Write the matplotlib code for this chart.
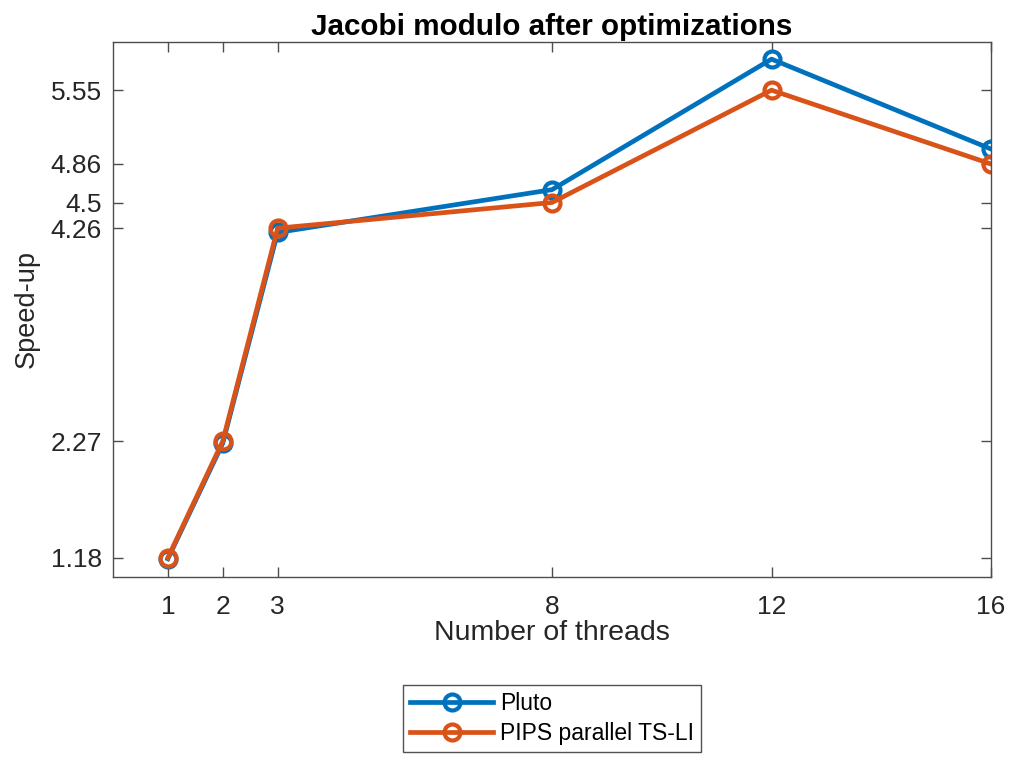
import matplotlib
matplotlib.use("Agg")
import matplotlib.pyplot as plt

threads = [1, 2, 3, 8, 12, 16]
pluto = [1.17, 2.25, 4.22, 4.62, 5.84, 5.00]
pips = [1.18, 2.27, 4.26, 4.50, 5.55, 4.86]
ytick_values = [1.18, 2.27, 4.26, 4.5, 4.86, 5.55]
ytick_labels = ["1.18", "2.27", "4.26", "4.5", "4.86", "5.55"]

plt.rcParams["font.family"] = ["Liberation Sans", "DejaVu Sans"]

fig = plt.figure(figsize=(10.13, 7.57), dpi=100)
ax = fig.add_axes([113 / 1013, 1 - 577 / 757, (991 - 113) / 1013, (577 - 42) / 757])

blue = "#0072BD"
orange = "#D95319"
ax.plot(threads, pluto, color=blue, lw=3.4, marker="o", ms=11.5,
        mfc="none", mew=3.0, label="Pluto")
ax.plot(threads, pips, color=orange, lw=3.4, marker="o", ms=11.5,
        mfc="none", mew=3.0, label="PIPS parallel TS-LI")

ax.set_xlim(0, 16)
ax.set_ylim(1, 6)
ax.set_xticks(threads)
ax.set_yticks(ytick_values)
ax.set_yticklabels(ytick_labels)

axis_color = "#262626"
for s in ax.spines.values():
    s.set_color("#4d4d4d")
    s.set_linewidth(1.0)
ax.tick_params(direction="in", length=7, width=1.0, color="#4d4d4d",
               labelcolor=axis_color, labelsize=19, top=True, right=True)
ax.tick_params(axis="x", pad=13)
ax.tick_params(axis="y", pad=8)

ax.set_title("Jacobi modulo after optimizations", fontsize=21.3, fontweight="bold",
             color="black", pad=5)
ax.set_xlabel("Number of threads", fontsize=20.5, color=axis_color, labelpad=0.5)
ax.set_ylabel("Speed-up", fontsize=19.5, color=axis_color, labelpad=8)

leg = ax.legend(loc="upper center", bbox_to_anchor=(0.5, -0.202), fontsize=16.5,
                frameon=True, fancybox=False, handlelength=3.6, borderpad=0.3,
                labelspacing=0.3, handletextpad=0.3, borderaxespad=0)
leg.get_frame().set_edgecolor("#262626")
leg.get_frame().set_linewidth(1.0)

fig.savefig("out.png", dpi=100)
